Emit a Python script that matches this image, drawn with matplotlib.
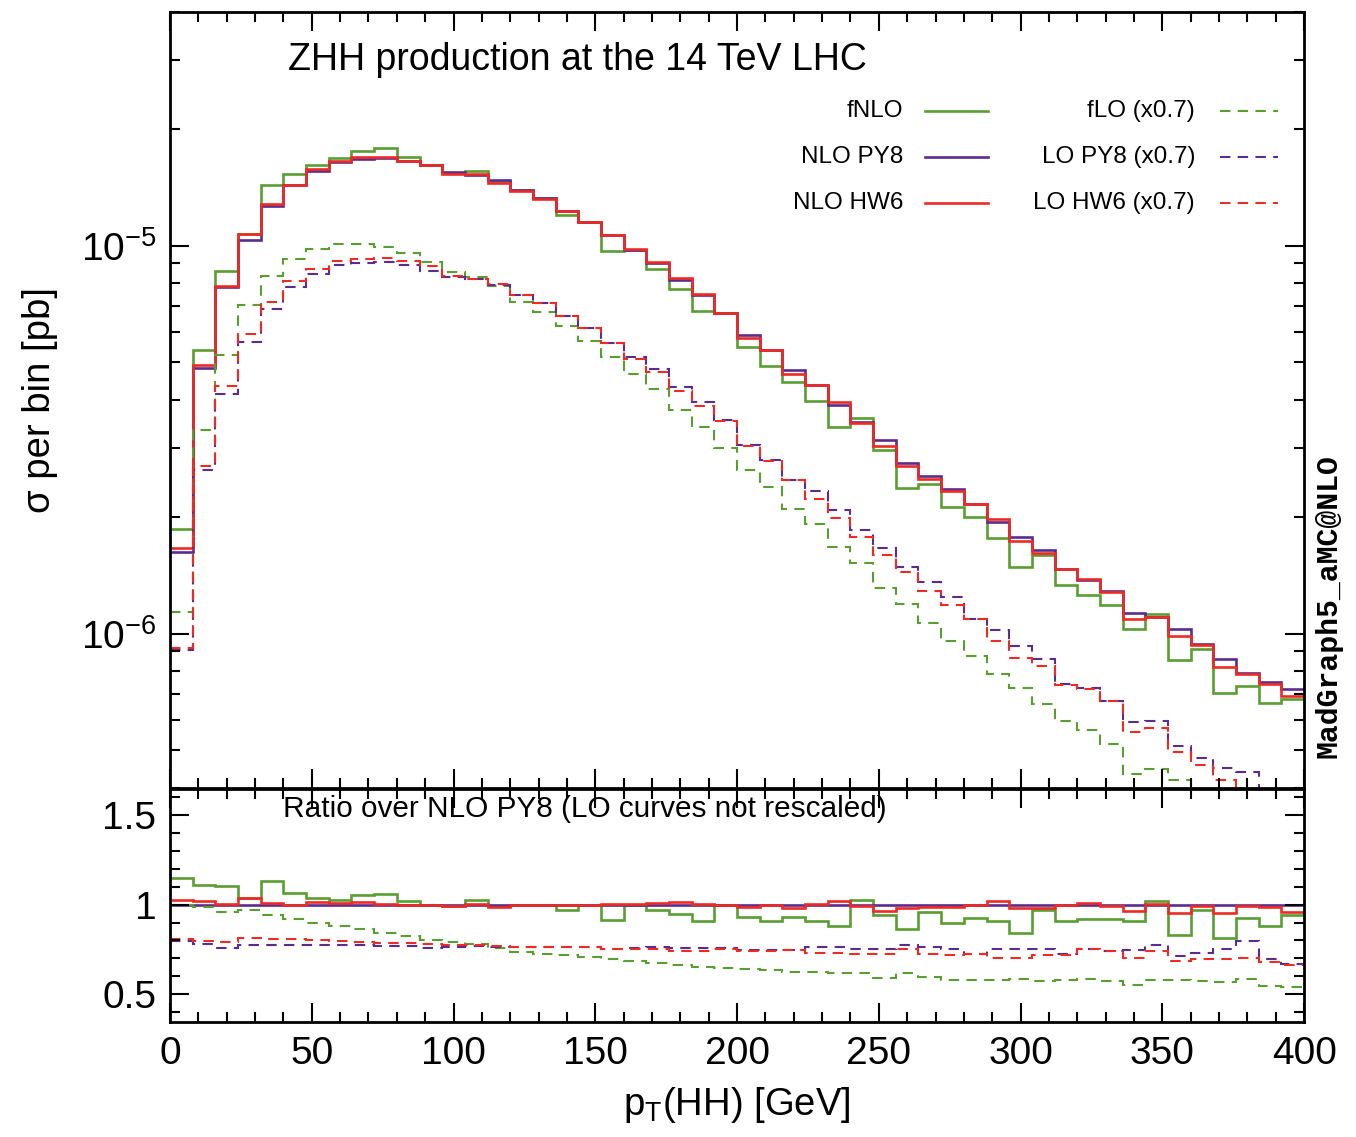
import numpy as np
import matplotlib
matplotlib.use("Agg")
import matplotlib.pyplot as plt
from matplotlib.ticker import FixedLocator, FixedFormatter, MultipleLocator

plt.rcParams['font.family'] = ['Liberation Sans', 'DejaVu Sans']
plt.rcParams['mathtext.fontset'] = 'custom'
plt.rcParams['mathtext.rm'] = 'Liberation Sans'
plt.rcParams['mathtext.it'] = 'Liberation Sans:italic'
plt.rcParams['mathtext.default'] = 'regular'

# pT(HH) binning: 50 bins of 8 GeV
bin_width = 8
n_bins = 50
pt_edges = np.arange(n_bins + 1) * bin_width

# NLO PY8 cross section per bin [pb] (reference curve)
nlo_py8 = np.array([
    1.62e-6, 4.84e-6, 7.82e-6, 1.035e-5, 1.265e-5, 1.436e-5, 1.552e-5, 1.64e-5, 1.668e-5, 1.684e-5,
    1.656e-5, 1.617e-5, 1.545e-5, 1.52e-5, 1.475e-5, 1.39e-5, 1.325e-5, 1.23e-5, 1.148e-5, 1.063e-5,
    9.73e-6, 9.0e-6, 8.14e-6, 7.45e-6, 6.69e-6, 5.88e-6, 5.37e-6, 4.77e-6, 4.36e-6, 3.88e-6,
    3.51e-6, 3.15e-6, 2.75e-6, 2.54e-6, 2.36e-6, 2.16e-6, 1.94e-6, 1.77e-6, 1.64e-6, 1.47e-6,
    1.37e-6, 1.29e-6, 1.13e-6, 1.10e-6, 1.03e-6, 9.4e-7, 8.6e-7, 7.9e-7, 7.5e-7, 7.2e-7,
])

# ratios over NLO PY8 (LO not rescaled)
ratio_fnlo = np.array([
    1.148, 1.111, 1.102, 1.037, 1.130, 1.065, 1.037, 1.028, 1.052, 1.060,
    1.019, 1.000, 0.994, 1.024, 0.995, 1.000, 1.000, 0.972, 1.000, 0.913,
    1.000, 0.969, 0.950, 0.911, 1.000, 0.931, 0.911, 0.931, 0.911, 0.880,
    1.024, 0.944, 0.865, 0.957, 0.898, 0.926, 0.911, 0.839, 0.972, 0.907,
    0.917, 0.920, 0.907, 1.019, 0.828, 0.972, 0.815, 0.926, 0.883, 0.944,
])
ratio_nlo_hw6 = np.array([
    1.024, 1.019, 1.004, 1.037, 1.010, 1.000, 1.013, 1.010, 1.013, 1.004,
    1.000, 0.996, 0.991, 1.004, 0.985, 0.996, 0.996, 1.000, 1.000, 1.004,
    1.004, 1.010, 1.013, 1.004, 1.000, 0.985, 1.000, 0.981, 1.004, 1.019,
    0.991, 0.967, 0.981, 0.985, 0.985, 1.000, 1.019, 0.981, 0.981, 0.996,
    1.010, 0.991, 0.963, 1.004, 0.954, 0.994, 0.954, 0.994, 0.987, 0.957,
])
ratio_flo = np.array([
    1.000, 0.985, 0.956, 0.972, 0.944, 0.917, 0.900, 0.880, 0.866, 0.839,
    0.826, 0.800, 0.790, 0.778, 0.760, 0.737, 0.727, 0.720, 0.706, 0.694,
    0.685, 0.676, 0.661, 0.654, 0.644, 0.643, 0.635, 0.626, 0.626, 0.617,
    0.617, 0.593, 0.620, 0.598, 0.580, 0.580, 0.578, 0.585, 0.575, 0.578,
    0.587, 0.574, 0.550, 0.580, 0.580, 0.576, 0.569, 0.587, 0.546, 0.543,
])
ratio_lo_py8 = np.array([
    0.798, 0.780, 0.759, 0.777, 0.777, 0.777, 0.777, 0.775, 0.772, 0.770,
    0.769, 0.759, 0.765, 0.769, 0.765, 0.765, 0.765, 0.763, 0.765, 0.754,
    0.759, 0.765, 0.759, 0.759, 0.759, 0.746, 0.746, 0.746, 0.765, 0.765,
    0.754, 0.754, 0.772, 0.765, 0.754, 0.722, 0.754, 0.750, 0.750, 0.722,
    0.754, 0.741, 0.746, 0.772, 0.713, 0.728, 0.750, 0.796, 0.694, 0.667,
])
ratio_lo_hw6 = np.array([
    0.808, 0.798, 0.792, 0.815, 0.810, 0.806, 0.803, 0.796, 0.790, 0.787,
    0.787, 0.781, 0.774, 0.772, 0.769, 0.765, 0.765, 0.765, 0.763, 0.754,
    0.750, 0.750, 0.741, 0.741, 0.754, 0.741, 0.741, 0.746, 0.728, 0.731,
    0.722, 0.722, 0.750, 0.722, 0.718, 0.722, 0.704, 0.700, 0.718, 0.718,
    0.750, 0.741, 0.704, 0.741, 0.685, 0.698, 0.698, 0.704, 0.680, 0.661,
])
lo_scale = 0.7

labels = ['fNLO', 'NLO PY8', 'NLO HW6', 'fLO (x0.7)', 'LO PY8 (x0.7)', 'LO HW6 (x0.7)']

green = '#5a9e32'
purple = '#5b2c8f'
red = '#ee2a24'

ratios = [ratio_fnlo, np.ones(n_bins), ratio_nlo_hw6, ratio_flo, ratio_lo_py8, ratio_lo_hw6]
colors = [green, purple, red, green, purple, red]
dashed = [False, False, False, True, True, True]

fig = plt.figure(figsize=(13.56, 11.37), dpi=100)
ax = fig.add_axes([0.1254, 0.3070, 0.8363, 0.6825])
axr = fig.add_axes([0.1254, 0.1011, 0.8363, 0.2050])

for r, c, d in zip(ratios, colors, dashed):
    top = r * nlo_py8 * (lo_scale if d else 1.0)
    kw = dict(color=c, lw=1.5 if d else 1.9, baseline=None)
    if d:
        kw['linestyle'] = (0, (5, 3.5))
    ax.stairs(top, pt_edges, **kw)
    axr.stairs(r, pt_edges, **kw)

ax.set_yscale('log')
ax.set_xlim(0, 400)
ax.set_ylim(4e-7, 4e-5)
ax.yaxis.set_major_locator(FixedLocator([1e-6, 1e-5]))
ax.yaxis.set_major_formatter(FixedFormatter([r'$10^{-6}$', r'$10^{-5}$']))
ax.xaxis.set_major_locator(MultipleLocator(50))
ax.xaxis.set_minor_locator(MultipleLocator(10))
ax.tick_params(labelbottom=False)

axr.set_xlim(0, 400)
axr.set_ylim(0.345, 1.645)
axr.xaxis.set_major_locator(MultipleLocator(50))
axr.xaxis.set_minor_locator(MultipleLocator(10))
axr.yaxis.set_major_locator(FixedLocator([0.5, 1.0, 1.5]))
axr.yaxis.set_major_formatter(FixedFormatter(['0.5', '1', '1.5']))
axr.yaxis.set_minor_locator(MultipleLocator(0.1))

for a in (ax, axr):
    a.tick_params(which='both', direction='in', top=True, right=True, width=1.5)
    a.tick_params(which='major', length=14, labelsize=28, pad=10)
    a.tick_params(which='minor', length=7)
    for s in a.spines.values():
        s.set_linewidth(2)

ax.text(0.359, 0.938, 'ZHH production at the 14 TeV LHC', transform=ax.transAxes,
        ha='center', va='center', fontsize=27)
axr.text(0.366, 0.915, 'Ratio over NLO PY8 (LO curves not rescaled)', transform=axr.transAxes,
         ha='center', va='center', fontsize=21.4)

# legend: two columns, label right-aligned then line sample
rows_y = [0.8724, 0.8131, 0.7539]
col_text_x = [0.6464, 0.9039]
col_line_x = [(0.6658, 0.7213), (0.9259, 0.9771)]
for k, (lab, c, d) in enumerate(zip(labels, colors, dashed)):
    col, row = k // 3, k % 3
    ax.text(col_text_x[col], rows_y[row], lab, transform=ax.transAxes,
            ha='right', va='center', fontsize=17.5)
    ax.plot(col_line_x[col], [rows_y[row]] * 2, transform=ax.transAxes, color=c,
            lw=1.5 if d else 1.9, linestyle=(0, (5, 3.5)) if d else '-')

fig.text(40 / 1356, 1 - 400 / 1137, 'σ per bin [pb]', rotation=90, ha='center', va='center', fontsize=27.5)
fig.text(737 / 1356, 1 - 1105 / 1137, r'p$_{\rm T}$(HH) [GeV]', ha='center', va='center', fontsize=27.5)
fig.text(1328 / 1356, 1 - 606 / 1137, 'MadGraph5_aMC@NLO', rotation=90, ha='center', va='center',
         fontsize=21.5, family='Liberation Mono', weight='bold')

fig.savefig('out.png', dpi=100)
